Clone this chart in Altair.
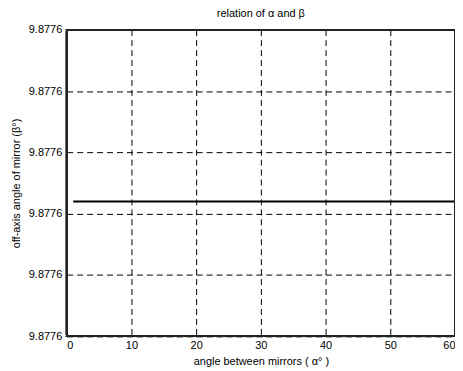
import altair as alt
import pandas as pd

angles = list(range(1, 61))
beta = [9.8776022] * len(angles)
x_ticks = [0, 10, 20, 30, 40, 50, 60]
y_ticks = [9.877600, 9.877601, 9.877602, 9.877603, 9.877604, 9.877605]

df = pd.DataFrame({"alpha": angles, "beta": beta})

font = "Liberation Sans"
W, H = 390, 308

line = alt.Chart(df).mark_line(color="black", strokeWidth=2).encode(
    x=alt.X("alpha:Q", scale=alt.Scale(domain=[0, 60], nice=False, zero=False),
            axis=alt.Axis(values=x_ticks, title="angle between mirrors ( α° )",
                          grid=True, gridColor="black", gridDash=[6, 4], gridOpacity=1,
                          ticks=False, labelColor="black",
                          labelFont=font, labelFontSize=11, titleFont=font,
                          titleFontSize=11, titleFontWeight="normal", titleColor="black",
                          titlePadding=5, labelPadding=3, domain=False)),
    y=alt.Y("beta:Q", scale=alt.Scale(domain=[9.877600, 9.877605], nice=False, zero=False),
            axis=alt.Axis(values=y_ticks, format=".4f", title="off-axis angle of mirror (β°)",
                          grid=True, gridColor="black", gridDash=[6, 4], gridOpacity=1,
                          ticks=False, labelColor="black",
                          labelFont=font, labelFontSize=11, titleFont=font,
                          titleFontSize=11, titleFontWeight="normal", titleColor="black",
                          titlePadding=7, labelPadding=5, domain=False)),
)

frame = alt.Chart(df).mark_rect(fill=None, stroke="#222222", strokeWidth=1.5).encode(
    x=alt.value(0), x2=alt.value(W), y=alt.value(0), y2=alt.value(H)
)

chart = alt.layer(line, frame).properties(
    width=W, height=H,
    autosize="none",
    padding={"left": 59, "top": 21, "right": 0, "bottom": 30},
    title=alt.TitleParams("relation of α and β", font=font, fontSize=11,
                          fontWeight="normal", color="black", offset=5),
).configure_view(stroke=None).configure(background="white")

chart.save("out.html", embed_options={"renderer": "svg", "actions": False})
